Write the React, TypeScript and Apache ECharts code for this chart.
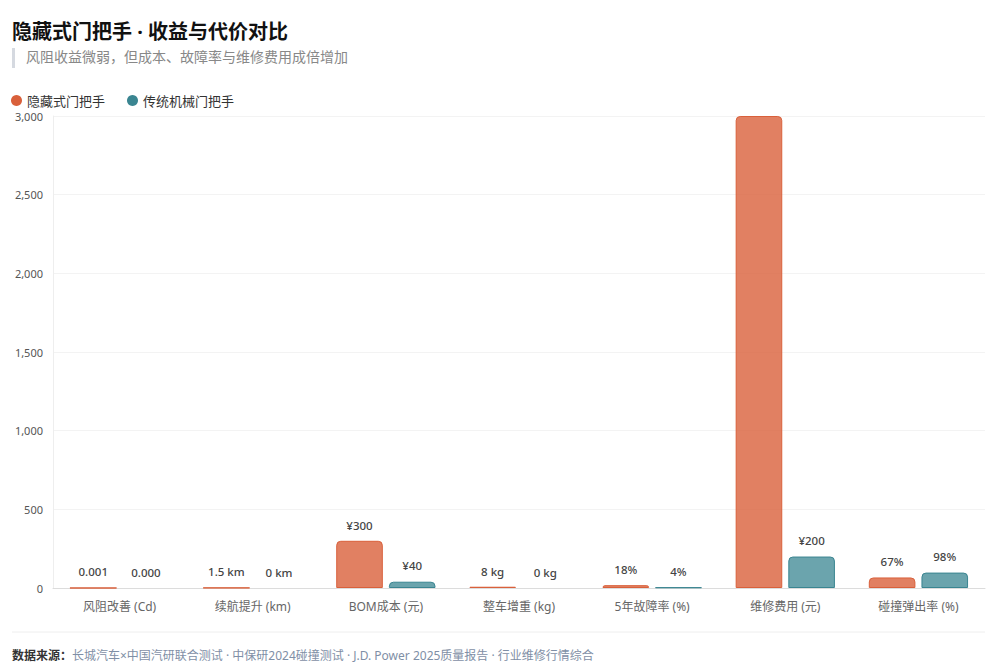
import React, { useEffect, useRef } from "react";
import * as echarts from "echarts";

const categories = ["风阻改善 (Cd)", "续航提升 (km)", "BOM成本 (元)", "整车增重 (kg)", "5年故障率 (%)", "维修费用 (元)", "碰撞弹出率 (%)"];
const hiddenValues = [0.001, 1.5, 300, 8, 18, 3000, 67];
const hiddenLabels = ["0.001", "1.5 km", "¥300", "8 kg", "18%", "", "67%"];
const mechValues = [0, 0, 40, 0, 4, 200, 98];
const mechLabels = ["0.000", "0 km", "¥40", "0 kg", "4%", "¥200", "98%"];
const seriesNames = ["隐藏式门把手", "传统机械门把手"];
const yTicks = [0, 500, 1000, 1500, 2000, 2500, 3000];

const ORANGE = "#D9603B";
const TEAL = "#3A8591";

export default function App() {
  const ref = useRef<HTMLDivElement>(null);
  useEffect(() => {
    document.body.style.margin = "0";
    const chart = echarts.init(ref.current!, null, { renderer: "svg" });
    const font = "'Noto Sans', 'Noto Sans CJK SC', sans-serif";
    const mkData = (vals: number[]) =>
      vals.map((v) => ({
        value: v,
        itemStyle: v === 0 ? { borderWidth: 0, color: "transparent" } : undefined,
      }));
    const labelStyle = {
      show: true,
      position: "top",
      distance: 10,
      color: "#444",
      fontSize: 11.5,
      fontWeight: 500,
    };
    chart.setOption({
      animation: false,
      textStyle: { fontFamily: font },
      color: [ORANGE, TEAL],
      legend: {
        left: 6,
        top: 89,
        icon: "circle",
        itemWidth: 11,
        itemHeight: 11,
        itemGap: 22,
        itemStyle: { borderWidth: 0 },
        textStyle: { fontSize: 13, color: "#333", fontFamily: font },
        data: [
          { name: seriesNames[0], itemStyle: { color: ORANGE, borderWidth: 0 } },
          { name: seriesNames[1], itemStyle: { color: TEAL, borderWidth: 0 } },
        ],
      },
      grid: { left: 53, right: 15, top: 116, bottom: 76, containLabel: false },
      xAxis: {
        type: "category",
        data: categories,
        axisLine: { lineStyle: { color: "#dcdcdc" } },
        axisTick: { show: false },
        axisLabel: { color: "#666", fontSize: 12, margin: 12 },
      },
      yAxis: {
        type: "value",
        min: yTicks[0],
        max: yTicks[yTicks.length - 1],
        interval: 500,
        axisLine: { show: true, lineStyle: { color: "#eeeeee" } },
        axisTick: { show: false },
        axisLabel: { color: "#555", fontSize: 11, margin: 10 },
        splitLine: { lineStyle: { color: "#f3f3f3" } },
      },
      series: [
        {
          name: seriesNames[0],
          type: "bar",
          data: mkData(hiddenValues),
          barWidth: "35%",
          barGap: "13%",
          itemStyle: {
            color: "rgba(217,96,59,0.8)",
            borderColor: ORANGE,
            borderWidth: 1,
            borderRadius: [4, 4, 0, 0],
          },
          label: { ...labelStyle, formatter: (p: any) => hiddenLabels[p.dataIndex] },
        },
        {
          name: seriesNames[1],
          type: "bar",
          data: mkData(mechValues),
          barWidth: "35%",
          barGap: "13%",
          itemStyle: {
            color: "rgba(58,133,145,0.75)",
            borderColor: TEAL,
            borderWidth: 1,
            borderRadius: [4, 4, 0, 0],
          },
          label: { ...labelStyle, formatter: (p: any) => mechLabels[p.dataIndex] },
        },
      ],
      graphic: [
        {
          type: "text",
          left: 12,
          top: 21,
          style: { text: "隐藏式门把手 · 收益与代价对比", font: `bold 20px ${font}`, fill: "#111" },
        },
        { type: "rect", left: 12, top: 48, shape: { width: 3, height: 20 }, style: { fill: "#d5d9e0" } },
        {
          type: "text",
          left: 26,
          top: 49,
          style: { text: "风阻收益微弱，但成本、故障率与维修费用成倍增加", font: `14px ${font}`, fill: "#888" },
        },
        { type: "line", shape: { x1: 12, y1: 632, x2: 985, y2: 632 }, style: { stroke: "#eeeeee", lineWidth: 1 } },
        {
          type: "text",
          left: 12,
          top: 649,
          style: {
            text: "{b|数据来源：}{n|长城汽车×中国汽研联合测试 · 中保研2024碰撞测试 · J.D. Power 2025质量报告 · 行业维修行情综合}",
            rich: {
              b: { font: `bold 12px ${font}`, fill: "#333" },
              n: { font: `12px ${font}`, fill: "#7f8fa6" },
            },
          },
        },
      ],
    });
    return () => chart.dispose();
  }, []);
  return <div ref={ref} style={{ width: 1000, height: 664 }} />;
}
